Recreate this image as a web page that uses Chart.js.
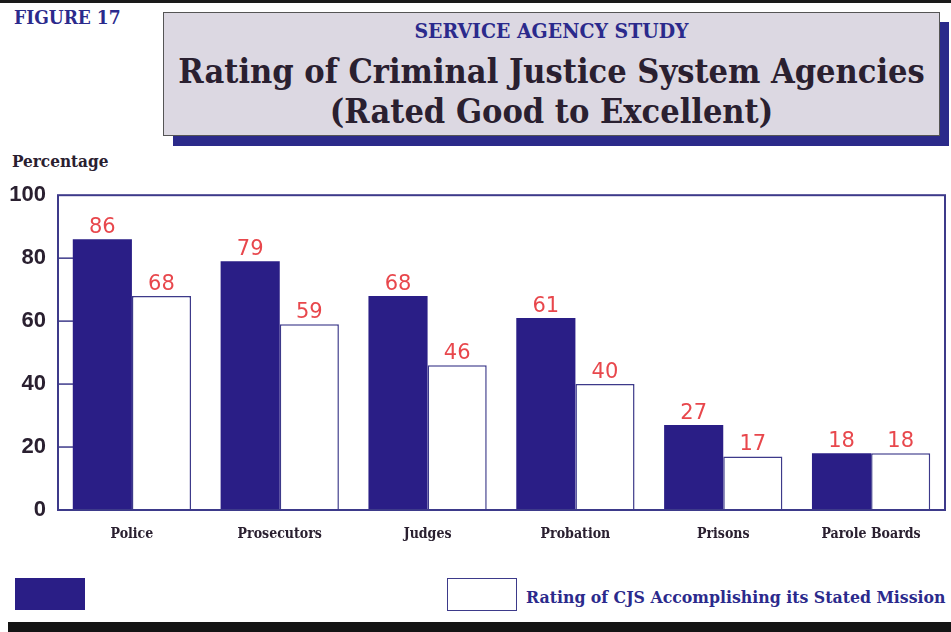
<!DOCTYPE html>
<html>
<head>
<meta charset="utf-8">
<script src="https://cdn.jsdelivr.net/npm/chart.js@4/dist/chart.umd.min.js"></script>
<style>
  body { margin: 0; width: 951px; height: 632px; background: #fff; position: relative; overflow: hidden; }
  .slab { font-family: 'DejaVu Serif Condensed', 'DejaVu Serif', serif; font-weight: bold; white-space: nowrap; }
  .topbar { position: absolute; left: 0; top: 0; width: 951px; height: 3px; background: #1a1a1a; }
  .botbar { position: absolute; left: 8px; top: 622px; width: 943px; height: 10px; background: #141414; }
  .fig { position: absolute; left: 14px; top: 6px; color: #2b2a8c; font-size: 19px; }
  .shadow { position: absolute; left: 173px; top: 22px; width: 776px; height: 124px; background: #2b2a8a; }
  .box { position: absolute; left: 163px; top: 12px; width: 775px; height: 122px; background: #dcd8e2; border: 1px solid #555; }
  .sub { position: absolute; left: 0; width: 100%; top: 5px; text-align: center; color: #2b2a8c; font-size: 21px; }
  .main { position: absolute; left: 0; width: 100%; top: 38px; text-align: center; color: #2a2030; font-size: 34px; line-height: 40px; }
  .pct { position: absolute; left: 12px; top: 151px; color: #2a2030; font-size: 17px; }
  #wrap { position: absolute; left: 0; top: 178px; width: 951px; height: 367px; }
  .leg1 { position: absolute; left: 15px; top: 578px; width: 70px; height: 32px; background: #2a1e86; }
  .leg2 { position: absolute; left: 447px; top: 578px; width: 68px; height: 31px; border: 1.5px solid #3d3a8a; background: #fff; }
  .legtxt { position: absolute; left: 526px; top: 587px; color: #2b2a8c; font-size: 17.5px; }
</style>
</head>
<body>
<div class="topbar"></div>
<div class="fig slab">FIGURE 17</div>
<div class="shadow"></div>
<div class="box">
  <div class="sub slab">SERVICE AGENCY STUDY</div>
  <div class="main slab">Rating of Criminal Justice System Agencies<br>(Rated Good to Excellent)</div>
</div>
<div class="pct slab">Percentage</div>
<div id="wrap"><canvas id="chart"></canvas></div>
<div class="leg1"></div>
<div class="leg2"></div>
<div class="legtxt slab">Rating of CJS Accomplishing its Stated Mission</div>
<div class="botbar"></div>
<script>
// data
const agencies = ['Police', 'Prosecutors', 'Judges', 'Probation', 'Prisons', 'Parole Boards'];
const agencyRating = [86, 79, 68, 61, 27, 18];
const missionRating = [68, 59, 46, 40, 17, 18];
const yTicks = [0, 20, 40, 60, 80, 100];

const NAVY = '#2a1e86';
const EDGE = '#3d3a8a';
const RED = '#e8474c';
const INK = '#2a2030';
const SLAB = "'DejaVu Serif Condensed', 'DejaVu Serif', serif";

// box around plot + short inner ticks on the y axis
const framePlugin = {
  id: 'frame',
  afterDraw(chart) {
    const { ctx, chartArea: a, scales } = chart;
    ctx.save();
    ctx.strokeStyle = EDGE;
    ctx.lineWidth = 2;
    ctx.strokeRect(a.left, a.top, a.right - a.left, a.bottom - a.top);
    ctx.lineWidth = 1.5;
    yTicks.slice(1, -1).forEach(v => {
      const y = scales.y.getPixelForValue(v);
      ctx.beginPath();
      ctx.moveTo(a.left, y);
      ctx.lineTo(a.left + 15, y);
      ctx.stroke();
    });
    ctx.restore();
  }
};

// red value labels above each bar
const valuePlugin = {
  id: 'values',
  afterDatasetsDraw(chart) {
    const ctx = chart.ctx;
    ctx.save();
    ctx.fillStyle = RED;
    ctx.font = "21px 'DejaVu Sans', sans-serif";
    ctx.textAlign = 'center';
    ctx.textBaseline = 'bottom';
    chart.data.datasets.forEach((ds, i) => {
      chart.getDatasetMeta(i).data.forEach((bar, j) => {
        ctx.fillText(ds.data[j], bar.x, bar.y - 1);
      });
    });
    ctx.restore();
  }
};

new Chart(document.getElementById('chart'), {
  type: 'bar',
  data: {
    labels: agencies,
    datasets: [
      { label: 'Rating', data: agencyRating, backgroundColor: NAVY, borderColor: NAVY, borderWidth: 0 },
      { label: 'Rating of CJS Accomplishing its Stated Mission', data: missionRating, backgroundColor: '#ffffff', borderColor: EDGE, borderWidth: 1.5 }
    ]
  },
  options: {
    responsive: true,
    maintainAspectRatio: false,
    animation: false,
    layout: { padding: { top: 5, right: 6, left: 0, bottom: 0 } },
    datasets: { bar: { categoryPercentage: 0.8, barPercentage: 1.0 } },
    plugins: { legend: { display: false }, tooltip: { enabled: false } },
    scales: {
      x: {
        grid: { display: false },
        border: { display: false },
        ticks: { color: INK, padding: 8, font: { family: SLAB, size: 14, weight: 'bold' } },
        afterFit(scale) { scale.height = 35; }
      },
      y: {
        min: 0, max: 100,
        grid: { display: false },
        border: { display: false },
        ticks: { stepSize: 20, color: INK, padding: 4, font: { family: "'Liberation Sans', sans-serif", size: 22, weight: 'bold' } },
        afterFit(scale) { scale.width = 58; }
      }
    }
  },
  plugins: [framePlugin, valuePlugin]
});
</script>
</body>
</html>
